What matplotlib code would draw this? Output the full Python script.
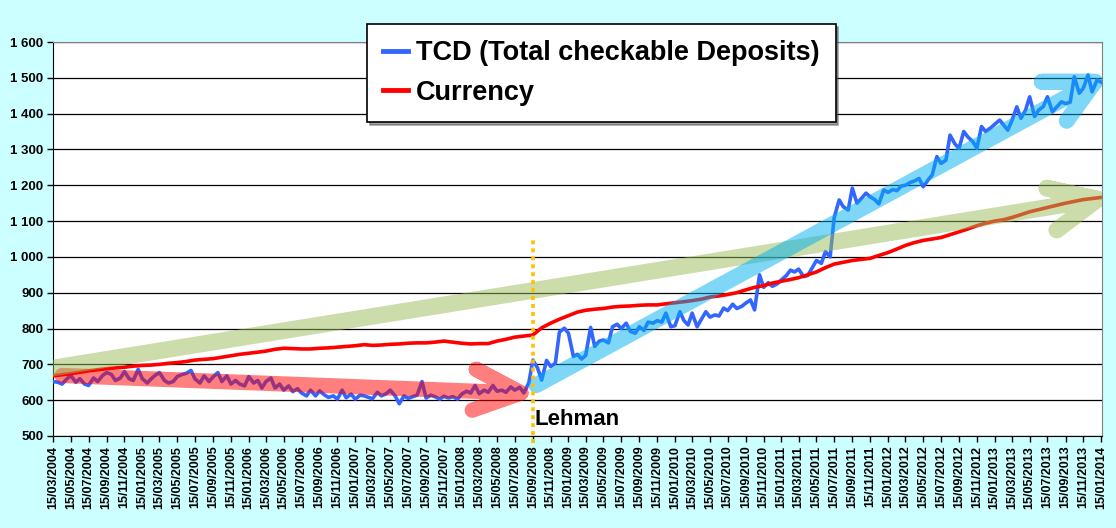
import matplotlib
matplotlib.use('Agg')
import matplotlib.pyplot as plt
import matplotlib.dates as mdates
from matplotlib.ticker import FuncFormatter
import pandas as pd

plt.rcParams['font.family'] = ['Liberation Sans', 'DejaVu Sans']
plt.rcParams['font.weight'] = 'bold'

tcd_2004 = [652, 650, 645, 659, 669, 650, 660, 645, 641, 662, 652, 669, 677, 672, 655, 662, 680, 660, 655]
tcd_2005 = [686, 660, 648, 660, 670, 677, 655, 648, 652, 666, 672, 675, 683, 659, 648, 668, 652, 665, 677, 652, 668, 645, 655, 645]
tcd_2006 = [640, 666, 648, 655, 634, 652, 662, 634, 645, 628, 640, 624, 632, 620, 612, 628, 612, 626, 615, 608, 612, 603, 628, 607]
tcd_2007 = [617, 603, 614, 612, 608, 604, 622, 612, 618, 628, 612, 590, 612, 605, 610, 614, 652, 606, 614, 610, 603, 611, 606, 610]
tcd_2008 = [603, 617, 625, 620, 641, 618, 628, 622, 641, 625, 628, 622, 637, 628, 636, 620, 648, 712, 690, 656, 711, 694, 703, 790]
tcd_2009 = [801, 787, 722, 728, 715, 725, 803, 750, 765, 768, 760, 805, 812, 800, 815, 792, 787, 805, 795, 818, 815, 822, 818, 843]
tcd_2010 = [805, 808, 847, 822, 810, 843, 805, 825, 847, 832, 838, 835, 857, 850, 868, 856, 862, 871, 880, 852, 950, 915, 928, 918]
tcd_2011 = [925, 936, 948, 963, 958, 966, 945, 948, 970, 990, 982, 1015, 1000, 1110, 1159, 1140, 1131, 1192, 1150, 1162, 1178, 1168, 1160, 1148]
tcd_2012 = [1187, 1180, 1188, 1185, 1198, 1200, 1208, 1212, 1219, 1196, 1215, 1229, 1280, 1261, 1270, 1340, 1315, 1303, 1350, 1335, 1322, 1303, 1364, 1350]
tcd_2013 = [1360, 1370, 1382, 1368, 1354, 1380, 1419, 1387, 1410, 1447, 1392, 1410, 1420, 1447, 1405, 1418, 1433, 1428, 1432, 1503, 1457, 1471, 1508, 1461]
tcd_2014 = [1494, 1488]
tcd = tcd_2004 + tcd_2005 + tcd_2006 + tcd_2007 + tcd_2008 + tcd_2009 + tcd_2010 + tcd_2011 + tcd_2012 + tcd_2013 + tcd_2014

# currency, monthly (15th), 03/2004 .. 01/2014
currency = [668, 671, 674, 678, 682, 685, 688, 690, 692, 695,
            697, 698, 700, 703, 705, 708, 712, 714, 716, 720, 724, 728,
            731, 734, 737, 742, 745, 744, 743, 743, 745, 746, 748, 750,
            752, 755, 753, 754, 756, 757, 759, 760, 760, 762, 765, 762,
            759, 757, 758, 758, 765, 770, 776, 779, 782, 802, 815, 826,
            836, 846, 851, 854, 856, 860, 862, 863, 865, 866, 866, 869,
            872, 875, 878, 882, 888, 891, 895, 900, 908, 915, 920, 927,
            932, 937, 942, 950, 958, 970, 980, 985, 990, 993, 996, 1004,
            1012, 1022, 1032, 1040, 1046, 1050, 1054, 1062, 1070, 1078, 1087, 1094,
            1100, 1104, 1110, 1118, 1126, 1132, 1138, 1144, 1150, 1155, 1160, 1163,
            1166]

tcd_dates = pd.date_range('2004-03-15', periods=len(tcd), freq='SMS')
cur_dates = pd.date_range('2004-03-01', periods=len(currency), freq='MS') + pd.Timedelta(days=14)
tick_dates = pd.date_range('2004-03-01', '2014-01-01', freq='2MS') + pd.Timedelta(days=14)
lehman = pd.Timestamp('2008-09-15')

# hand drawn trend arrows: shaft start, tip, two wing ends (date, value)
red_arrow = [('2004-04-15', 669), ('2008-08-05', 620), ('2008-03-05', 686), ('2008-02-20', 572)]
green_arrow = [('2004-03-01', 688), ('2014-01-03', 1161), ('2013-07-13', 1192), ('2013-08-16', 1075)]
blue_arrow = [('2008-09-27', 642), ('2013-12-25', 1489), ('2013-06-26', 1489), ('2013-09-19', 1380)]


def draw_arrow(ax, pts, color, lw):
    start, tip, w1, w2 = pts
    path = [start, tip, w1, tip, w2]
    xs = [mdates.date2num(pd.Timestamp(d)) for d, v in path]
    ys = [v for d, v in path]
    ax.plot(xs, ys, color=color, alpha=0.5, lw=lw, solid_capstyle='round',
            solid_joinstyle='round', zorder=5)


fig = plt.figure(figsize=(11.16, 5.28), dpi=100, facecolor='#CCFFFF')
ax = fig.add_axes([53 / 1116, 92 / 528, 1049 / 1116, 394 / 528])
ax.set_facecolor('white')

ax.plot(tcd_dates, tcd, color='#3366FF', lw=2.6, solid_joinstyle='round', zorder=3,
        label='TCD (Total checkable Deposits)')
ax.plot(cur_dates, currency, color='#FF0000', lw=2.6, solid_joinstyle='round', zorder=4,
        label='Currency')

draw_arrow(ax, red_arrow, '#FF0000', 11)
draw_arrow(ax, green_arrow, '#9BBB59', 12)
draw_arrow(ax, blue_arrow, '#00B0F0', 11.5)

ax.plot([lehman, lehman], [480, 1050], color='#FFC000', lw=2.6, ls=(0, (1.1, 1.1)),
        clip_on=False, zorder=6)
ax.text(lehman + pd.Timedelta(days=5), 545, 'Lehman', fontsize=16, fontweight='bold',
        ha='left', va='center', zorder=7)

ax.set_xlim(pd.Timestamp('2004-03-15'), pd.Timestamp('2014-01-18'))
ax.set_ylim(500, 1600)
ax.set_yticks(range(500, 1700, 100))
ax.yaxis.set_major_formatter(FuncFormatter(lambda v, p: f"{int(v):,}".replace(',', ' ')))
ax.set_xticks(tick_dates)
ax.set_xticklabels([d.strftime('%d/%m/%Y') for d in tick_dates], rotation=90)
ax.tick_params(axis='x', labelsize=9, length=4, width=1, pad=3)
ax.tick_params(axis='y', labelsize=9.5, length=4, width=1, pad=3)

ax.grid(axis='y', color='black', lw=0.9)
ax.set_axisbelow(True)
for s in ['top', 'right']:
    ax.spines[s].set_color('#808080')
for s in ['left', 'bottom']:
    ax.spines[s].set_color('black')

leg = ax.legend(loc='upper left', bbox_to_anchor=(367 / 1116, 1 - 24 / 528),
                bbox_transform=fig.transFigure, borderaxespad=0, fancybox=False,
                shadow=True, framealpha=1, edgecolor='black',
                prop={'size': 19.5, 'weight': 'bold'}, handlelength=0.9,
                handletextpad=0.3, borderpad=0.6, labelspacing=0.5)
leg.get_frame().set_linewidth(1.2)
for line in leg.get_lines():
    line.set_linewidth(3.5)

fig.savefig('out.png', dpi=100, facecolor=fig.get_facecolor())
